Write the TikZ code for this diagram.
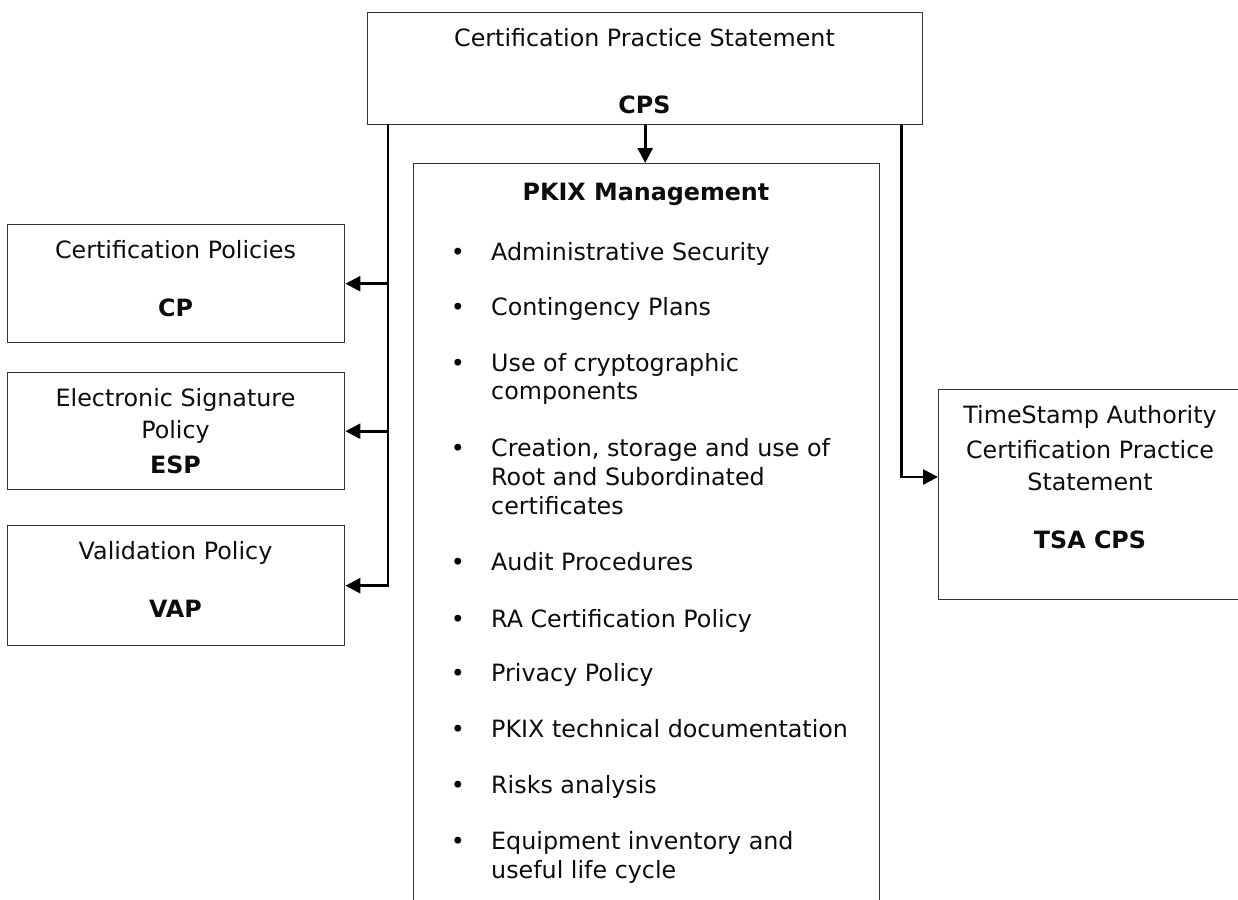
\documentclass[tikz,border=0pt]{standalone}
\usepackage{fontspec}
\setmainfont{DejaVu Sans}
\usetikzlibrary{arrows.meta,calc}
\begin{document}
\begin{tikzpicture}[x=1pt,y=-1pt,
  box/.style={draw=black!80,line width=1.4pt,inner sep=0pt,anchor=north west},
  lbl/.style={anchor=base,inner sep=0pt,text=black!95,font=\fontsize{23.8}{28.8}\selectfont},
  lblb/.style={lbl,font=\fontsize{23.8}{28.8}\selectfont\bfseries},
  item/.style={anchor=base west,inner sep=0pt,text=black!95,font=\fontsize{23.8}{28.8}\selectfont},
  dot/.style={anchor=base,inner sep=0pt,font=\fontsize{23.8}{28.8}\selectfont},
  wire/.style={line width=2.6pt},
  conn/.style={wire,-{Triangle[length=15pt,width=15pt]}}]
\useasboundingbox (0,0) rectangle (1238,899);

% boxes
\node[box,minimum width=555pt,minimum height=112pt] (cps)  at (367,12)  {};
\node[box,minimum width=466pt,minimum height=760pt] (pkix) at (413,163) {};
\node[box,minimum width=337pt,minimum height=118pt] (cp)   at (7,224)   {};
\node[box,minimum width=337pt,minimum height=117pt] (esp)  at (7,372)   {};
\node[box,minimum width=337pt,minimum height=120pt] (vap)  at (7,525)   {};
\node[box,minimum width=306pt,minimum height=210pt] (tsa)  at (938,389) {};

% box texts
\node[lbl]  (cpsA) at (644.5,46)  {Certification Practice Statement};
\node[lblb] (cpsB) at (644.5,113) {CPS};
\node[lblb] (pkT)  at (646,200)   {PKIX Management};
\node[lbl]  (cpA)  at (175.5,258) {Certification Policies};
\node[lblb] (cpB)  at (175.5,316) {CP};
\node[lbl]  (espA) at (175.5,406) {Electronic Signature};
\node[lbl]  (espB) at (175.5,438) {Policy};
\node[lblb] (espC) at (175.5,473) {ESP};
\node[lbl]  (vapA) at (175.5,559) {Validation Policy};
\node[lblb] (vapB) at (175.5,617) {VAP};
\node[lbl]  (tsaA) at (1090,423)  {TimeStamp Authority};
\node[lbl]  (tsaB) at (1090,458)  {Certification Practice};
\node[lbl]  (tsaC) at (1090,490)  {Statement};
\node[lblb] (tsaD) at (1090,548)  {TSA CPS};

% bulleted list
\foreach \y in {260,315,371,456,570,627,681,737,793,849}
  \node[dot] (bu\y) at (458,\y) {•};
\foreach \y/\t in {260/Administrative Security, 315/Contingency Plans,
    371/Use of cryptographic, 399/components,
    456/{Creation, storage and use of}, 485/Root and Subordinated, 514/certificates,
    570/Audit Procedures, 627/RA Certification Policy, 681/Privacy Policy,
    737/PKIX technical documentation, 793/Risks analysis,
    849/Equipment inventory and, 878/useful life cycle}
  \node[item] (ln\y) at (491,\y) {\t};

% connectors
\coordinate (ltop) at ($(cps.south west)+(21,0)$);
\coordinate (rtop) at ($(cps.south east)+(-22,0)$);
\coordinate (tsaIn) at ($(tsa.north west)+(0,88)$);
\draw[conn] (cps.south) -- (cps.south |- pkix.north);
\draw[conn] (ltop) |- (vap.east);
\draw[conn] (ltop |- cp.east) -- (cp.east);
\draw[conn] (ltop |- esp.east) -- (esp.east);
\draw[conn] (rtop) |- (tsaIn);
\end{tikzpicture}
\end{document}
